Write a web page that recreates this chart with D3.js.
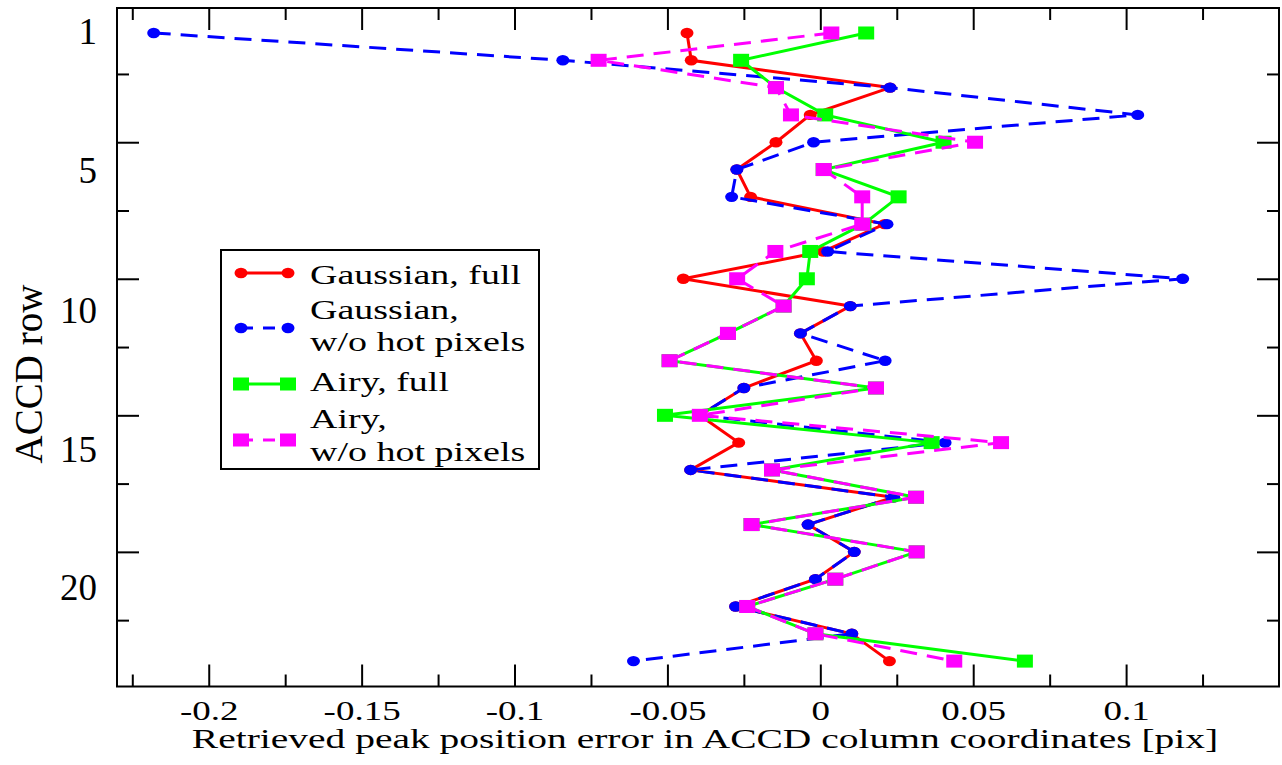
<!DOCTYPE html>
<html>
<head>
<meta charset="utf-8">
<script src="https://cdn.jsdelivr.net/npm/d3@7"></script>
<style>
  body { margin: 0; background: #fff; }
  text { font-family: "Liberation Serif", "Times New Roman", serif; fill: #000; }
</style>
</head>
<body>
<svg id="chart"></svg>
<script>
// rows of the ACCD, one value per row for each fit
var rows = [1, 2, 3, 4, 5, 6, 7, 8, 9, 10, 11, 12, 13, 14, 15, 16, 17, 18, 19, 20, 21, 22, 23, 24]

var gaussFull  = [-0.0436, -0.0422, 0.0228, -0.0033, -0.0145, -0.0273, -0.0228, 0.021, 0.001, -0.0448, 0.0098, -0.0065,
                  -0.0013, -0.025, -0.0394, -0.0267, -0.0424, 0.024, -0.004, 0.0111, -0.0016, -0.0277, 0.0103, 0.0226]
var gaussNoHot = [-0.218, -0.0842, 0.0228, 0.1038, -0.0022, -0.0273, -0.029, 0.0218, 0.0024, 0.1185, 0.0098, -0.0065,
                  0.0212, -0.025, -0.0394, 0.0408, -0.0424, 0.024, -0.004, 0.0111, -0.0016, -0.0277, 0.0103, -0.0611]
var airyFull   = [0.015, -0.0259, -0.0145, 0.0016, 0.0403, 0.0011, 0.0256, 0.0141, -0.0033, -0.0044, -0.012, -0.0302,
                  -0.0493, 0.0182, -0.0508, 0.0364, -0.0158, 0.0313, -0.0225, 0.0315, 0.0049, -0.0239, -0.0016, 0.0669]
var airyNoHot  = [0.0036, -0.0725, -0.0145, -0.0096, 0.0506, 0.0011, 0.0137, 0.0137, -0.0147, -0.0272, -0.012, -0.0302,
                  -0.0493, 0.0182, -0.0394, 0.0591, -0.0158, 0.0313, -0.0225, 0.0315, 0.0049, -0.0239, -0.0016, 0.0438]

var xMajorTicks = [-0.2, -0.15, -0.1, -0.05, 0, 0.05, 0.1]
var xMinorTicks = [-0.225, -0.175, -0.125, -0.075, -0.025, 0.025, 0.075, 0.125]
var yMajorTicks = [5, 10, 15, 20]
var yMinorTicks = [2.5, 7.5, 12.5, 17.5, 22.5]
// the row labels sit a little below the major ticks in the original
var yLabelPos   = [0.93, 6.02, 11.13, 16.22, 21.29]
var yLabelText  = ["1", "5", "10", "15", "20"]

var seriesNames = ["Gaussian, full", "Gaussian,|w/o hot pixels", "Airy, full", "Airy,|w/o hot pixels"]

var dimensions = {
    width: 1282,
    height: 765,
    margin: { top: 8, bottom: 78.5, left: 117, right: 3 }
}

var series = [
    { name: seriesNames[0], values: gaussFull,  color: "#ff0000", dash: null,    shape: "circle" },
    { name: seriesNames[1], values: gaussNoHot, color: "#0000ff", dash: "17,10", shape: "circle" },
    { name: seriesNames[2], values: airyFull,   color: "#00ff00", dash: null,    shape: "square" },
    { name: seriesNames[3], values: airyNoHot,  color: "#ff00ff", dash: "17,10", shape: "square" }
]

var svg = d3.select("#chart")
            .attr("width", dimensions.width)
            .attr("height", dimensions.height)

var plotLeft = dimensions.margin.left
var plotRight = dimensions.width - dimensions.margin.right
var plotTop = dimensions.margin.top
var plotBottom = dimensions.height - dimensions.margin.bottom

var xScale = d3.scaleLinear()
               .domain([-0.23, 0.15])
               .range([plotLeft, plotRight])

var yScale = d3.scaleLinear()
               .domain([0.085, 24.93])
               .range([plotTop, plotBottom])

// the picture is squashed vertically: text drawn with this factor
var squash = 0.73

function drawMarker(g, shape, color, x, y) {
    if (shape == "circle") {
        g.append("ellipse")
         .attr("cx", x).attr("cy", y)
         .attr("rx", 6.5).attr("ry", 5.2)
         .attr("fill", color)
    } else {
        g.append("rect")
         .attr("x", x - 8).attr("y", y - 6.5)
         .attr("width", 16).attr("height", 13)
         .attr("fill", color)
    }
}

// lines and markers
series.forEach(function(s){
    var pts = rows.map((r, i) => [r, s.values[i]])
    var lineGen = d3.line()
                    .x(d => xScale(d[1]))
                    .y(d => yScale(d[0]))
    var g = svg.append("g")
    g.append("path")
     .datum(pts)
     .attr("d", lineGen)
     .attr("fill", "none")
     .attr("stroke", s.color)
     .attr("stroke-width", 3)
     .attr("stroke-dasharray", s.dash)
    pts.forEach(d => drawMarker(g, s.shape, s.color, xScale(d[1]), yScale(d[0])))
})

// axes, ticks pointing inward on all four sides
function styleAxis(g) {
    g.select(".domain").remove()
    g.selectAll("line").attr("stroke", "#000").attr("stroke-width", 2)
}

svg.append("g")
   .attr("transform", `translate(0,${plotBottom})`)
   .call(d3.axisBottom(xScale).tickValues(xMinorTicks).tickSize(-12).tickFormat(""))
   .call(styleAxis)

var xAxis = svg.append("g")
   .attr("transform", `translate(0,${plotBottom})`)
   .call(d3.axisBottom(xScale).tickValues(xMajorTicks).tickSize(-22).tickFormat(d => String(d)))
   .call(styleAxis)

xAxis.selectAll("text")
     .attr("y", 0).attr("dy", 0)
     .attr("transform", `translate(0,33) scale(1,${squash})`)
     .style("font-size", "37px")
     .style("font-family", "Liberation Serif, serif")

svg.append("g")
   .attr("transform", `translate(0,${plotTop})`)
   .call(d3.axisTop(xScale).tickValues(xMinorTicks).tickSize(-12).tickFormat(""))
   .call(styleAxis)

svg.append("g")
   .attr("transform", `translate(0,${plotTop})`)
   .call(d3.axisTop(xScale).tickValues(xMajorTicks).tickSize(-22).tickFormat(""))
   .call(styleAxis)

svg.append("g")
   .attr("transform", `translate(${plotLeft},0)`)
   .call(d3.axisLeft(yScale).tickValues(yMinorTicks).tickSize(-12).tickFormat(""))
   .call(styleAxis)

svg.append("g")
   .attr("transform", `translate(${plotLeft},0)`)
   .call(d3.axisLeft(yScale).tickValues(yMajorTicks).tickSize(-22).tickFormat(""))
   .call(styleAxis)

var yLabels = svg.append("g")
   .attr("transform", `translate(${plotLeft},0)`)
   .call(d3.axisLeft(yScale).tickValues(yLabelPos).tickSize(0).tickPadding(20)
           .tickFormat((d, i) => yLabelText[i]))
   .call(styleAxis)

yLabels.selectAll("text")
       .style("font-size", "37px")
       .style("font-family", "Liberation Serif, serif")
       .attr("dy", "0.34em")

svg.append("g")
   .attr("transform", `translate(${plotRight},0)`)
   .call(d3.axisRight(yScale).tickValues(yMinorTicks).tickSize(-12).tickFormat(""))
   .call(styleAxis)

svg.append("g")
   .attr("transform", `translate(${plotRight},0)`)
   .call(d3.axisRight(yScale).tickValues(yMajorTicks).tickSize(-22).tickFormat(""))
   .call(styleAxis)

// frame
svg.append("rect")
   .attr("x", plotLeft).attr("y", plotTop)
   .attr("width", plotRight - plotLeft).attr("height", plotBottom - plotTop)
   .attr("fill", "none")
   .attr("stroke", "#000")
   .attr("stroke-width", 2)

// axis titles
svg.append("text")
   .attr("transform", `translate(${(plotLeft + plotRight) / 2 + 7},748) scale(1,0.69)`)
   .attr("text-anchor", "middle")
   .style("font-size", "39.5px")
   .text("Retrieved peak position error in ACCD column coordinates [pix]")

svg.append("text")
   .attr("transform", `translate(42,374) rotate(-90)`)
   .attr("text-anchor", "middle")
   .style("font-size", "39px")
   .text("ACCD row")

// legend
var legend = svg.append("g")
legend.append("rect")
      .attr("x", 221).attr("y", 250)
      .attr("width", 318).attr("height", 219)
      .attr("fill", "#fff")
      .attr("stroke", "#000")
      .attr("stroke-width", 2)

var legendRows = [
    { markerY: 273, textY: [284] },
    { markerY: 328, textY: [319, 351] },
    { markerY: 384, textY: [391] },
    { markerY: 440, textY: [428, 461] }
]

series.forEach(function(s, i){
    var lr = legendRows[i]
    legend.append("line")
          .attr("x1", 241).attr("x2", 288)
          .attr("y1", lr.markerY).attr("y2", lr.markerY)
          .attr("stroke", s.color)
          .attr("stroke-width", 3)
          .attr("stroke-dasharray", s.dash ? "12,10" : null)
    drawMarker(legend, s.shape, s.color, 241, lr.markerY)
    drawMarker(legend, s.shape, s.color, 288, lr.markerY)
    s.name.split("|").forEach(function(t, j){
        legend.append("text")
              .attr("transform", `translate(310,${lr.textY[j]}) scale(1,0.72)`)
              .style("font-size", "38px")
              .text(t)
    })
})
</script>
</body>
</html>
